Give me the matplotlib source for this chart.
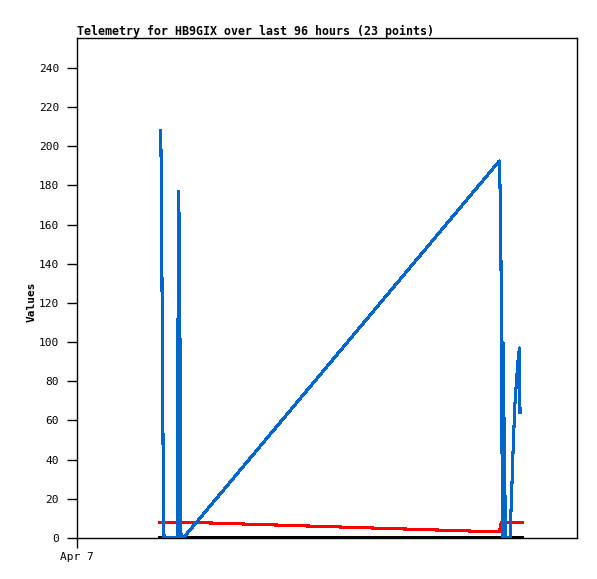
import numpy as np
import matplotlib
matplotlib.use("Agg")
import matplotlib.pyplot as plt
import matplotlib.ticker as ticker

# time in hours since Apr 7 00:00
blue_t = [4.02, 4.056, 4.094, 4.138, 4.176,
          4.814, 4.838, 4.882, 4.934, 4.958, 4.992, 5.102,
          20.27, 20.304, 20.328, 20.352, 20.376, 20.395, 20.41, 20.448, 20.496, 20.568,
          20.784, 20.866, 20.942, 21.024, 21.106, 21.182, 21.24, 21.264]
blue_v = [208, 174, 104, 35, 0,
          0, 88, 177, 132, 44, 0, 0,
          192.5, 180, 161, 140, 101, 80, 0, 100, 60, 0,
          0, 24, 48, 69, 82, 92, 97, 64]

red_t = [3.984, 5.102, 20.27, 20.36, 21.36]
red_v = [7.8, 8.1, 3.1, 7.8, 7.8]

black_t = [3.984, 21.36]
black_v = [0, 0]

yticks = list(range(0, 241, 20))
title = "Telemetry for HB9GIX over last 96 hours (23 points)"

fig = plt.figure(figsize=(5.97, 5.79), dpi=100)
ax = fig.add_axes([77/597, 41/579, 500/597, 500/579])

ax.plot(black_t, black_v, color="black", lw=1.5, antialiased=False, zorder=2)
ax.plot(red_t, red_v, color="#ff0000", lw=1.5, antialiased=False, zorder=3)
ax.plot(blue_t, blue_v, color="#0066cc", lw=1.5, antialiased=False,
        solid_joinstyle="round", zorder=4)

ax.set_xlim(0, 24)
ax.set_ylim(0, 255.3)

mono = "DejaVu Sans Mono"
ax.yaxis.set_major_locator(ticker.FixedLocator(yticks))
ax.set_yticklabels([str(v) for v in yticks], fontsize=8, family=mono)
ax.xaxis.set_major_locator(ticker.FixedLocator([0]))
ax.set_xticklabels(["Apr 7"], fontsize=8, family=mono)
ax.tick_params(axis="y", direction="out", length=7, width=1, pad=6)
ax.tick_params(axis="x", direction="out", length=7, width=1, pad=3)

for s in ax.spines.values():
    s.set_linewidth(1)
    s.set_color("black")

ax.set_ylabel("Values", fontsize=8, family=mono, fontweight="bold")
ax.yaxis.set_label_coords(-0.080, 0.472)
ax.set_title(title, fontsize=8.4, family=mono, fontweight="bold", loc="left", pad=2)

fig.savefig("out.png", dpi=100)
